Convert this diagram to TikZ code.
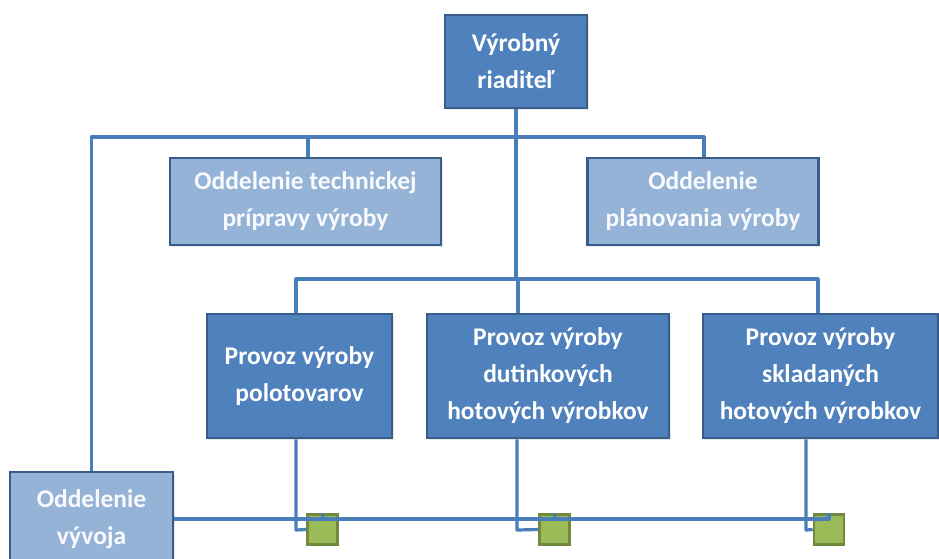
\documentclass[tikz,border=0pt]{standalone}
\usepackage{fontspec}
\setmainfont{Carlito}
\usetikzlibrary{shadows}
\definecolor{darkfill}{HTML}{4F81BD}
\definecolor{lightfill}{HTML}{95B3D7}
\definecolor{boxborder}{HTML}{385D8A}
\definecolor{linecol}{HTML}{4A7EBB}
\definecolor{greenfill}{HTML}{9BBB59}
\definecolor{greenborder}{HTML}{71893F}
\tikzset{
  box/.style={draw=boxborder, line width=2.6pt, align=center, inner sep=0pt,
    font=\fontsize{25.5}{37}\selectfont\bfseries,
    drop shadow={opacity=0.2, shadow xshift=1.5pt, shadow yshift=-1.5pt}},
  darkbox/.style={box, fill=darkfill, text=white},
  lightbox/.style={box, fill=lightfill, text=white!94!lightfill},
  sq/.style={draw=greenborder, line width=2.6pt, fill=greenfill, minimum size=30pt, inner sep=0pt},
  conn/.style={draw=linecol, line width=3.2pt, line join=round}
}
\begin{document}
\begin{tikzpicture}[x=1pt,y=-1pt]
\useasboundingbox (0,0) rectangle (939,558);
% junction coordinates
\coordinate (h1) at (704,137);
\coordinate (t1) at (308,137);
\coordinate (h2L) at (296,279);
\coordinate (h2M) at (518,279);
\coordinate (h2R) at (818,279);
\coordinate (b1) at (296,530);
\coordinate (b2) at (517,530);
\coordinate (b3) at (806,530);

% nodes
\node[darkbox, minimum width=142pt, minimum height=93pt] (top) at (516,61.5) {Výrobný\\riaditeľ};
\node[lightbox, minimum width=271pt, minimum height=87pt] (tech) at (305.5,201.5) {Oddelenie technickej\\prípravy výroby};
\node[lightbox, minimum width=231pt, minimum height=87pt] (plan) at (703,201.5) {Oddelenie\\plánovania výroby};
\node[darkbox, minimum width=185pt, minimum height=124pt] (p1) at (299.5,376) {Provoz výroby\\polotovarov};
\node[darkbox, minimum width=242pt, minimum height=124pt] (p2) at (548,376) {Provoz výroby\\dutinkových\\hotových výrobkov};
\node[darkbox, minimum width=235pt, minimum height=124pt] (p3) at (820.5,376) {Provoz výroby\\skladaných\\hotových výrobkov};
\node[lightbox, minimum width=163pt, minimum height=94pt] (vyv) at (91.5,519) {Oddelenie\\vývoja};
\node[sq] (s1) at (322.5,529.5) {};
\node[sq] (s2) at (554.5,529.5) {};
\node[sq] (s3) at (829,529.5) {};

% connectors
\draw[conn] (vyv.north) |- (h1) -- (h1 |- plan.north);
\draw[conn] (t1) -- (t1 |- tech.north);
\draw[conn] (top.south) -- (top.south |- h2M);
\draw[conn] (h2L |- p1.north) -- (h2L) -- (h2R) -- (h2R |- p3.north);
\draw[conn] (h2M) -- (h2M |- p2.north);
\draw[conn] (vyv.east) -| (s3.north);
\draw[conn] (s1.north) -- (s1.north |- vyv.east);
\draw[conn] (s2.north) -- (s2.north |- vyv.east);
\draw[conn] (b1 |- p1.south) -- (b1) -- (s1.west);
\draw[conn] (b2 |- p2.south) -- (b2) -- (s2.west);
\draw[conn] (b3 |- p3.south) -- (b3) -- (s3.west);
\end{tikzpicture}
\end{document}
